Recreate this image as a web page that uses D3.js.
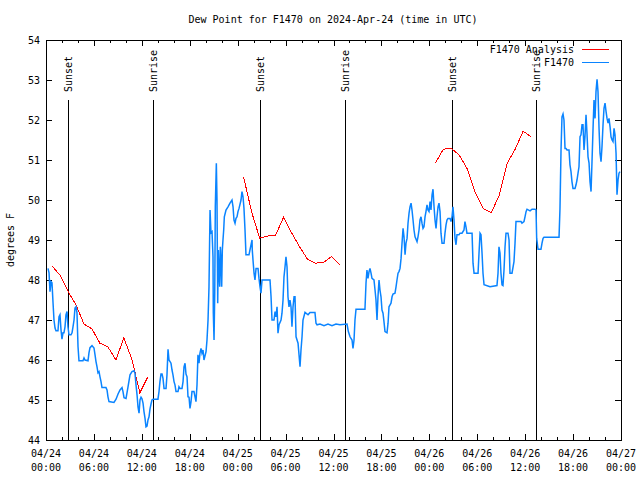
<!DOCTYPE html>
<html>
<head>
<meta charset="utf-8">
<script src="https://cdn.jsdelivr.net/npm/d3@7"></script>
<style>
html,body{margin:0;padding:0;background:#fff;}
svg text{font-family:"DejaVu Sans Mono","Liberation Mono",monospace;font-size:10px;fill:#000;}
</style>
</head>
<body>
<script>
// ---------- DATA ----------
const chartTitle = "Dew Point for F1470 on 2024-Apr-24 (time in UTC)";
const yLabel = "degrees F";
const startTime = "2024-04-24T00:00:00Z";
const endTime = "2024-04-27T00:00:00Z";
const yTicks = [44,45,46,47,48,49,50,51,52,53,54];

// F1470 Analysis (hours since start, deg F), three daily runs
const anaHours1 = [0.75,1.75,2.75,3.75,4.75,5.75,6.75,7.75,8.75,9.75,10.75,11.75,12.75];
const anaValues1 = [48.35,48.12,47.72,47.38,46.9,46.78,46.42,46.33,46.0,46.55,46.02,45.18,45.58];
const anaHours2 = [24.75,25.75,26.75,27.75,28.75,29.75,30.75,31.75,32.75,33.75,34.75,35.75,36.75];
const anaValues2 = [50.57,49.7,49.05,49.1,49.12,49.57,49.18,48.83,48.52,48.42,48.44,48.59,48.38];
const anaHours3 = [48.75,49.75,50.75,51.75,52.75,53.75,54.75,55.75,56.75,57.75,58.75,59.75,60.75];
const anaValues3 = [50.92,51.27,51.29,51.12,50.78,50.18,49.78,49.68,50.12,50.92,51.27,51.72,51.58];

// F1470 observations [hours since start, deg F]
const obsSeries = [
 [0.25,48.29],[0.38,48.18],[0.50,47.71],[0.63,47.96],[0.75,47.93],[0.88,47.43],[1.00,47.00],[1.13,46.80],
 [1.25,46.73],[1.50,46.73],[1.63,47.08],[1.75,47.13],[1.88,46.75],[2.00,46.52],[2.13,46.68],[2.25,46.68],
 [2.38,46.83],[2.50,47.13],[2.63,47.21],[2.75,46.83],[2.88,46.63],[3.13,46.63],[3.26,46.68],[3.38,46.83],
 [3.51,47.00],[3.63,47.30],[3.76,47.33],[3.88,47.18],[4.01,46.33],[4.13,45.98],[4.63,45.98],[4.76,46.05],
 [4.88,46.00],[5.26,45.98],[5.38,46.18],[5.51,46.31],[5.76,46.36],[6.01,46.30],[6.14,46.13],[6.26,45.96],
 [6.39,45.83],[6.51,45.68],[6.64,45.71],[6.76,45.58],[6.89,45.46],[7.01,45.31],[7.51,45.31],[7.64,45.25],
 [7.76,45.08],[7.89,44.96],[8.51,44.94],[8.77,45.02],[9.02,45.15],[9.27,45.25],[9.52,45.31],[9.64,45.21],
 [9.77,45.06],[10.02,45.04],[10.27,45.33],[10.52,45.63],[10.77,45.71],[11.02,45.73],[11.14,45.67],[11.27,45.38],
 [11.40,45.13],[11.52,44.83],[11.65,44.67],[11.77,45.00],[11.90,45.07],[12.02,45.03],[12.15,44.92],[12.27,44.71],
 [12.40,44.54],[12.52,44.33],[12.65,44.35],[12.77,44.50],[12.90,44.58],[13.02,44.77],[13.15,44.90],[13.27,45.00],
 [13.40,45.02],[14.02,45.02],[14.15,45.21],[14.27,45.46],[14.40,45.65],[14.53,45.65],[14.65,45.54],[14.78,45.29],
 [15.03,45.29],[15.15,45.63],[15.28,46.27],[15.40,46.00],[15.53,45.96],[15.65,45.92],[15.78,45.75],[15.90,45.63],
 [16.03,45.46],[16.15,45.38],[16.28,45.21],[16.53,45.21],[16.65,45.33],[16.78,45.29],[17.03,45.29],[17.16,45.46],
 [17.28,45.83],[17.41,45.92],[17.53,45.65],[17.66,45.58],[17.78,45.08],[17.91,45.07],[18.03,44.79],[18.16,44.96],
 [18.28,45.21],[18.53,45.21],[18.66,45.08],[18.78,44.96],[18.91,45.38],[19.03,46.13],[19.16,45.92],[19.28,46.17],
 [19.41,46.29],[19.53,46.17],[19.66,46.25],[19.78,46.00],[20.04,46.21],[20.16,46.50],[20.29,47.00],[20.41,47.83],
 [20.54,49.75],[20.66,49.18],[20.79,49.21],[20.91,48.58],[20.95,47.18],[21.04,46.50],[21.13,47.68],[21.20,49.83],
 [21.33,50.92],[21.41,50.04],[21.50,47.42],[21.58,48.75],[21.66,48.25],[21.75,47.83],[21.83,48.83],[21.91,48.50],
 [22.00,47.83],[22.08,48.75],[22.16,49.00],[22.25,49.25],[22.33,49.58],[22.54,49.75],[22.79,49.83],[23.04,49.92],
 [23.29,50.00],[23.42,49.83],[23.54,49.50],[23.67,49.42],[23.79,49.54],[23.92,49.58],[24.04,49.71],[24.17,49.79],
 [24.42,50.00],[24.54,50.21],[24.67,50.08],[24.79,49.79],[24.92,49.25],[25.04,48.63],[25.42,48.63],[25.54,48.75],
 [25.67,48.88],[25.80,49.00],[25.83,48.75],[25.92,48.50],[26.05,48.17],[26.17,48.00],[26.30,48.29],[26.55,48.29],
 [26.67,48.04],[26.80,47.83],[26.92,47.67],[27.05,48.00],[28.05,48.00],[28.18,47.58],[28.30,47.00],[28.55,47.00],
 [28.68,47.21],[28.80,47.08],[28.93,47.33],[29.05,46.67],[29.18,46.88],[29.43,47.00],[29.55,47.17],[29.68,47.50],
 [29.80,48.08],[29.93,48.33],[30.05,48.58],[30.18,48.33],[30.30,47.58],[30.43,47.33],[30.55,47.50],[30.68,47.33],
 [30.80,46.83],[30.93,47.33],[31.06,47.58],[31.18,47.58],[31.31,46.58],[31.56,46.42],[31.81,45.83],[31.93,46.25],
 [32.06,46.58],[32.18,47.00],[32.43,47.19],[32.81,47.13],[33.06,47.19],[33.68,47.19],[33.81,46.92],[33.94,46.88],
 [34.31,46.90],[34.81,46.86],[35.31,46.90],[35.81,46.86],[36.31,46.90],[36.81,46.88],[37.69,46.90],[37.86,46.71],
 [38.07,46.58],[38.32,46.50],[38.44,46.29],[38.57,46.50],[38.69,47.00],[38.82,47.27],[39.94,47.27],[40.07,47.92],
 [40.19,48.25],[40.32,48.04],[40.45,48.21],[40.57,48.29],[40.70,48.17],[40.82,48.04],[41.07,48.00],[41.20,47.75],
 [41.32,47.50],[41.45,47.00],[41.57,47.58],[41.70,48.00],[41.82,47.75],[41.95,47.58],[42.07,47.25],[42.20,47.17],
 [42.32,46.96],[42.45,46.71],[42.70,46.68],[42.83,46.92],[42.95,47.33],[43.08,47.38],[43.20,47.42],[43.33,47.58],
 [43.45,47.65],[43.70,47.67],[43.83,47.83],[43.95,48.00],[44.08,48.17],[44.20,48.21],[44.33,48.29],[44.46,48.54],
 [44.58,48.92],[44.71,49.29],[44.83,49.08],[44.96,48.63],[45.08,48.92],[45.21,49.04],[45.33,49.42],[45.46,49.67],
 [45.58,49.83],[45.71,49.92],[45.83,49.75],[45.96,49.50],[46.08,49.25],[46.21,49.08],[46.46,48.96],[46.58,49.08],
 [46.71,49.25],[46.83,49.50],[46.96,49.58],[47.08,49.42],[47.21,49.29],[47.33,49.33],[47.46,49.58],[47.58,49.71],
 [47.71,49.88],[47.83,49.75],[47.96,49.71],[48.09,49.96],[48.21,49.75],[48.34,50.13],[48.46,50.27],[48.59,49.83],
 [48.71,49.50],[48.84,49.29],[48.96,49.58],[49.09,49.83],[49.21,49.92],[49.34,49.71],[49.46,49.17],[49.59,48.92],
 [49.84,48.92],[49.96,49.17],[50.09,49.38],[50.21,49.50],[50.34,49.54],[50.59,49.54],[50.71,49.46],[50.84,49.58],
 [50.96,49.83],[51.09,49.50],[51.21,49.05],[51.34,48.88],[51.46,49.13],[51.71,49.13],[51.84,49.17],[52.09,49.17],
 [52.34,49.25],[52.46,49.46],[52.59,49.33],[52.71,49.17],[53.35,49.17],[53.47,48.42],[53.60,48.17],[54.10,48.17],
 [54.22,48.67],[54.35,49.17],[54.47,49.13],[54.60,48.67],[54.72,48.17],[54.85,47.88],[55.60,47.83],[56.47,47.86],
 [56.60,48.17],[56.72,48.83],[56.85,48.67],[56.97,48.17],[57.10,47.88],[57.22,47.86],[57.35,48.25],[57.48,48.83],
 [57.60,49.17],[57.85,49.17],[57.98,49.00],[58.10,48.17],[58.35,48.17],[58.60,48.46],[58.73,48.92],[58.85,49.46],
 [59.48,49.46],[59.60,49.42],[59.85,49.46],[59.98,49.58],[60.11,49.71],[60.23,49.77],[60.61,49.73],[60.86,49.77],
 [61.23,49.77],[61.36,49.75],[61.44,49.04],[61.61,48.77],[61.98,48.77],[62.11,48.92],[62.24,49.04],[62.36,49.07],
 [64.24,49.07],[64.36,49.79],[64.49,51.25],[64.61,52.08],[64.74,52.15],[64.86,52.00],[64.99,51.29],[65.11,51.29],
 [65.24,51.25],[65.49,51.25],[65.61,50.88],[65.74,50.71],[65.86,50.46],[65.99,50.29],[66.24,50.29],[66.37,50.38],
 [66.49,50.50],[66.62,50.67],[66.74,50.83],[66.87,51.58],[66.99,51.63],[67.12,51.88],[67.24,51.88],[67.37,51.25],
 [67.49,51.58],[67.62,52.13],[67.74,51.67],[67.87,51.08],[68.00,50.92],[68.12,50.46],[68.25,50.21],[68.37,50.96],
 [68.50,51.79],[68.62,52.50],[68.75,52.04],[68.87,52.71],[69.00,53.02],[69.12,52.71],[69.25,51.79],[69.37,51.17],
 [69.50,50.96],[69.62,51.33],[69.75,51.88],[69.87,52.29],[70.00,52.42],[70.13,52.21],[70.25,52.04],[70.38,51.92],
 [70.50,52.04],[70.63,51.83],[70.75,51.58],[70.88,51.50],[71.00,51.46],[71.13,51.79],[71.25,51.63],[71.38,51.17],
 [71.50,50.13],[71.63,50.50],[71.75,50.67],[71.88,50.71]
];

const sunEvents = [
 {label:"Sunset",  time:"2024-04-24T02:47:00Z"},
 {label:"Sunrise", time:"2024-04-24T13:26:00Z"},
 {label:"Sunset",  time:"2024-04-25T02:50:00Z"},
 {label:"Sunrise", time:"2024-04-25T13:27:00Z"},
 {label:"Sunset",  time:"2024-04-26T02:52:00Z"},
 {label:"Sunrise", time:"2024-04-26T13:24:00Z"}
];
const legendLabels = ["F1470 Analysis","F1470"];

// ---------- LAYOUT ----------
const W = 640, H = 480;
const m = {left:46, right:621, top:40, bottom:440};
const colAna = "#ff0000", colObs = "#0a84ff";

const t0 = new Date(startTime);
const hToDate = h => new Date(t0.getTime() + h*3600e3);

const x = d3.scaleUtc().domain([t0, new Date(endTime)]).range([m.left, m.right]);
const y = d3.scaleLinear().domain([44,54]).range([m.bottom, m.top]);

const svg = d3.select("body").append("svg").attr("width",W).attr("height",H);

// title
svg.append("text").attr("x",333).attr("y",23).attr("text-anchor","middle").text(chartTitle);
// y label
svg.append("text").attr("transform","translate(14,240) rotate(-90)").attr("text-anchor","middle").text(yLabel);

const g = svg.append("g").attr("shape-rendering","crispEdges").attr("stroke","#000").attr("stroke-width",1);

// y ticks (left & right, inward)
yTicks.forEach(v => {
  const yy = Math.round(y(v)) + 0.5;
  g.append("line").attr("x1",m.left).attr("x2",m.left+6).attr("y1",yy).attr("y2",yy);
  g.append("line").attr("x1",m.right-6).attr("x2",m.right).attr("y1",yy).attr("y2",yy);
  svg.append("text").attr("x",40).attr("y",y(v)+3.5).attr("text-anchor","end").text(v);
});

// x ticks
const major = x.ticks(d3.utcHour.every(6));
const minor = x.ticks(d3.utcHour.every(2)).filter(d => d.getUTCHours() % 6 !== 0);
major.forEach(d => {
  const xx = Math.round(x(d)) + 0.5;
  g.append("line").attr("x1",xx).attr("x2",xx).attr("y1",m.bottom).attr("y2",m.bottom-6);
  g.append("line").attr("x1",xx).attr("x2",xx).attr("y1",m.top).attr("y2",m.top+6);
  const t = svg.append("text").attr("x",x(d)).attr("y",457).attr("text-anchor","middle");
  t.append("tspan").attr("x",x(d)).text(d3.utcFormat("%m/%d")(d));
  t.append("tspan").attr("x",x(d)).attr("dy",14).text(d3.utcFormat("%H:%M")(d));
});
minor.forEach(d => {
  const xx = Math.round(x(d)) + 0.5;
  g.append("line").attr("x1",xx).attr("x2",xx).attr("y1",m.bottom).attr("y2",m.bottom-3);
  g.append("line").attr("x1",xx).attr("x2",xx).attr("y1",m.top).attr("y2",m.top+3);
});

// analysis lines
const line = d3.line().x(d => x(d[0])).y(d => y(d[1]));
[[anaHours1,anaValues1],[anaHours2,anaValues2],[anaHours3,anaValues3]].forEach(([hs,vs]) => {
  const pts = hs.map((h,i) => [hToDate(h), vs[i]]);
  svg.append("path").attr("d",line(pts)).attr("fill","none").attr("stroke",colAna)
    .attr("stroke-width",1).attr("shape-rendering","crispEdges");
});

// observations
const obsPts = obsSeries.map(d => [hToDate(d[0]), d[1]]);
svg.append("path").attr("d",line(obsPts)).attr("fill","none").attr("stroke",colObs)
  .attr("stroke-width",1.5).attr("stroke-linejoin","miter");

// sun events
sunEvents.forEach(s => {
  const xx = Math.round(x(new Date(s.time))) + 0.5;
  g.append("line").attr("x1",xx).attr("x2",xx).attr("y1",100).attr("y2",m.bottom);
  svg.append("text").attr("transform",`translate(${xx},92) rotate(-90)`).attr("dy","0.35em")
    .attr("text-anchor","start").attr("x",0).text(s.label);
});

// frame
g.append("rect").attr("x",m.left+0.5).attr("y",m.top+0.5).attr("width",m.right-m.left)
  .attr("height",m.bottom-m.top).attr("fill","none");

// legend
const legColors = [colAna, colObs];
legendLabels.forEach((lab,i) => {
  const ly = 49 + i*13;
  svg.append("text").attr("x",574).attr("y",ly+3.5).attr("text-anchor","end").text(lab);
  svg.append("line").attr("x1",582).attr("x2",609).attr("y1",ly+0.5).attr("y2",ly+0.5)
    .attr("stroke",legColors[i]).attr("stroke-width",i===0?1:1.5).attr("shape-rendering","crispEdges");
});
</script>
</body>
</html>
